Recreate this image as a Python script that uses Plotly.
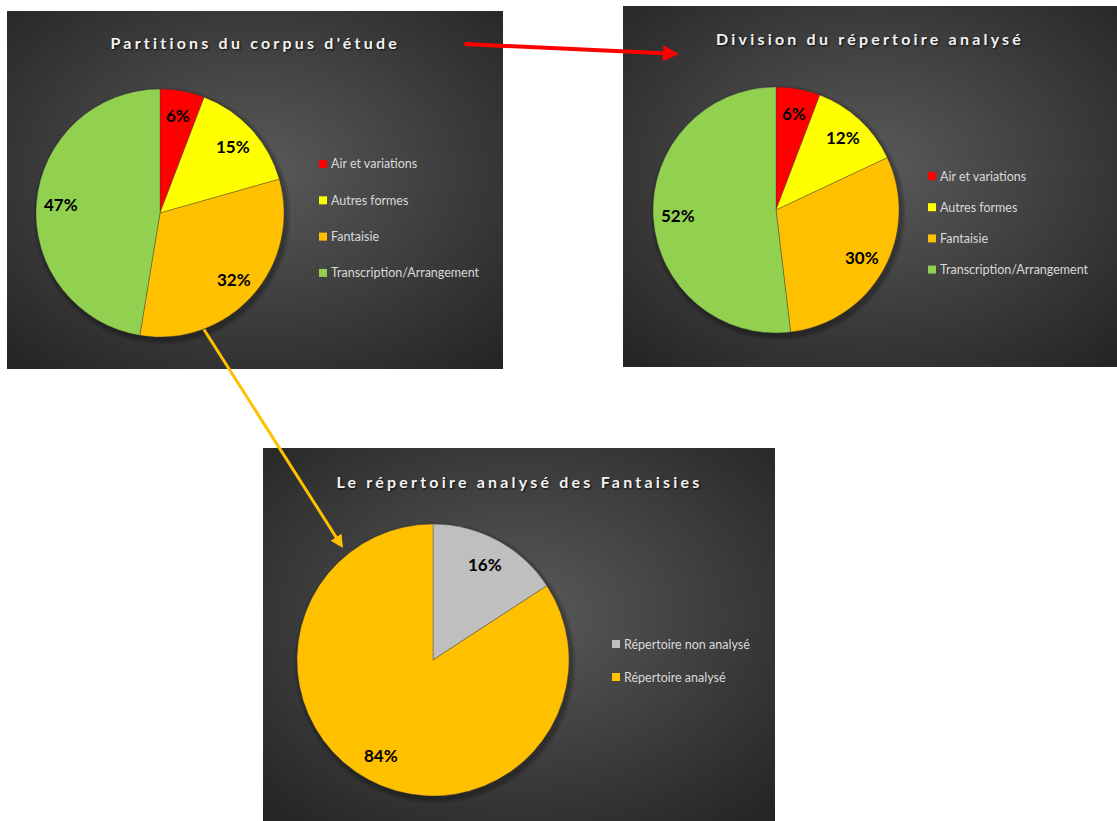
import base64
import json
import math
import plotly.graph_objects as go

W, H = 1117, 821

# ---------------- data ----------------
corpus_title = "Partitions du corpus d'étude"
corpus_labels = ["Air et variations", "Autres formes", "Fantaisie", "Transcription/Arrangement"]
corpus_values = [5.8, 14.8, 32.0, 47.4]

analysed_title = "Division du répertoire analysé"
analysed_labels = ["Air et variations", "Autres formes", "Fantaisie", "Transcription/Arrangement"]
analysed_values = [5.8, 12.2, 30.1, 51.9]

fantaisie_title = "Le répertoire analysé des Fantaisies"
fantaisie_labels = ["Répertoire non analysé", "Répertoire analysé"]
fantaisie_values = [15.8, 84.2]

genre_colors = ["#FF0000", "#FFFF00", "#FFC000", "#92D050"]
fantaisie_colors = ["#BFBFBF", "#FFC000"]

# ---------------- layout helpers (pixels -> paper) ----------------
def px(x):
    return x / W


def py(y):
    return 1 - y / H


panels = [
    dict(title=corpus_title, labels=corpus_labels, values=corpus_values, colors=genre_colors,
         box=(7, 11, 503, 369), center=(160, 213), r=124, title_xy=(255, 43),
         legend_x=319, legend_y=164, legend_step=36.3),
    dict(title=analysed_title, labels=analysed_labels, values=analysed_values, colors=genre_colors,
         box=(623, 6, 1117, 367), center=(776, 210), r=123, title_xy=(870, 38),
         legend_x=928, legend_y=176, legend_step=31.2),
    dict(title=fantaisie_title, labels=fantaisie_labels, values=fantaisie_values, colors=fantaisie_colors,
         box=(263, 448, 775, 821), center=(433, 660), r=136, title_xy=(519, 481),
         legend_x=612, legend_y=644, legend_step=33),
]

svg = ('<svg xmlns="http://www.w3.org/2000/svg" width="100" height="100" viewBox="0 0 100 100" '
       'preserveAspectRatio="none"><defs><radialGradient id="g" cx="50%" cy="45%" r="72%">'
       '<stop offset="0" stop-color="#5a5a5a"/><stop offset="1" stop-color="#252525"/>'
       '</radialGradient></defs><rect width="100" height="100" fill="url(#g)"/></svg>')
bg_src = "data:image/svg+xml;base64," + base64.b64encode(svg.encode()).decode()

fig = go.Figure()
images, shapes, annotations = [], [], []

for p in panels:
    x0, y0, x1, y1 = p["box"]
    images.append(dict(source=bg_src, xref="paper", yref="paper", x=px(x0), y=py(y0),
                       sizex=(x1 - x0) / W, sizey=(y1 - y0) / H, xanchor="left", yanchor="top",
                       sizing="stretch", layer="below"))
    cx, cy = p["center"]
    r = p["r"]
    # soft shadow under the pie (offset down-right)
    for k in range(1, 6):
        shapes.append(dict(type="circle", xref="paper", yref="paper", layer="below",
                           x0=px(cx - r - k + 2), x1=px(cx + r + k + 2),
                           y0=py(cy + r + k + 3), y1=py(cy - r - k + 3),
                           fillcolor="rgba(0,0,0,0.06)", line=dict(width=0)))
    fig.add_trace(go.Pie(
        labels=p["labels"], values=p["values"], sort=False, direction="clockwise", rotation=0,
        marker=dict(colors=p["colors"], line=dict(width=0.6, color="rgba(60,60,60,0.6)")),
        textinfo="none",
        domain=dict(x=[px(cx - r), px(cx + r)], y=[py(cy + r), py(cy - r)]),
        showlegend=False, hoverinfo="label+percent",
    ))
    # percentage labels placed like Excel's (about 0.8 of the radius, at slice mid-angle)
    total = sum(p["values"])
    cum = 0.0
    for v in p["values"]:
        mid = (cum + v / 2) / total * 2 * math.pi
        cum += v
        lx = cx + 0.8 * r * math.sin(mid)
        ly = cy - 0.8 * r * math.cos(mid)
        annotations.append(dict(text="<b>%d%%</b>" % round(100 * v / total), xref="paper",
                                yref="paper", x=px(lx), y=py(ly), xanchor="center",
                                yanchor="middle", showarrow=False,
                                font=dict(family="Lato", size=17, color="#000000")))
    tx, ty = p["title_xy"]
    annotations.append(dict(text="<b>" + p["title"] + "</b>", xref="paper", yref="paper",
                            x=px(tx), y=py(ty), xanchor="center", yanchor="middle", showarrow=False,
                            font=dict(family="Lato", size=16, color="#f2f2f2",
                                      shadow="1px 1px 2px rgba(0,0,0,0.8)")))
    for i, (lab, col) in enumerate(zip(p["labels"], p["colors"])):
        ly = p["legend_y"] + i * p["legend_step"]
        lx = p["legend_x"]
        shapes.append(dict(type="rect", xref="paper", yref="paper", x0=px(lx), x1=px(lx + 8),
                           y0=py(ly + 4), y1=py(ly - 4), fillcolor=col, line=dict(width=0)))
        annotations.append(dict(text=lab, xref="paper", yref="paper", x=px(lx + 10), y=py(ly),
                                xanchor="left", yanchor="middle", showarrow=False,
                                font=dict(family="Lato", size=12.5, color="#d9d9d9")))

# arrows linking the charts
annotations.append(dict(text="", xref="paper", yref="paper", x=px(679), y=py(54),
                        ax=463 - 679, ay=44 - 54, showarrow=True, arrowhead=2, arrowsize=0.8,
                        arrowwidth=4, arrowcolor="#FF0000", standoff=0))
annotations.append(dict(text="", xref="paper", yref="paper", x=px(343), y=py(548),
                        ax=203 - 343, ay=328 - 548, showarrow=True, arrowhead=2, arrowsize=0.85,
                        arrowwidth=3, arrowcolor="#FFC000", standoff=0))

fig.update_layout(
    width=W, height=H, margin=dict(l=0, r=0, t=0, b=0),
    paper_bgcolor="#FFFFFF", plot_bgcolor="#FFFFFF",
    images=images, shapes=shapes, annotations=annotations,
    showlegend=False,
)

titles_js = json.dumps([corpus_title, analysed_title, fantaisie_title])
post = """
document.body.style.margin = '0';
var gd = document.getElementById('{plot_id}');
var TITLES = %s;
function spaceTitles() {
  gd.querySelectorAll('text.annotation-text').forEach(function(t) {
    if (TITLES.indexOf(t.textContent) >= 0) { t.style.letterSpacing = '3.2px'; }
  });
}
spaceTitles();
gd.on('plotly_afterplot', spaceTitles);
""" % titles_js

fig.write_html("out.html", post_script=post, config={"displayModeBar": False})
